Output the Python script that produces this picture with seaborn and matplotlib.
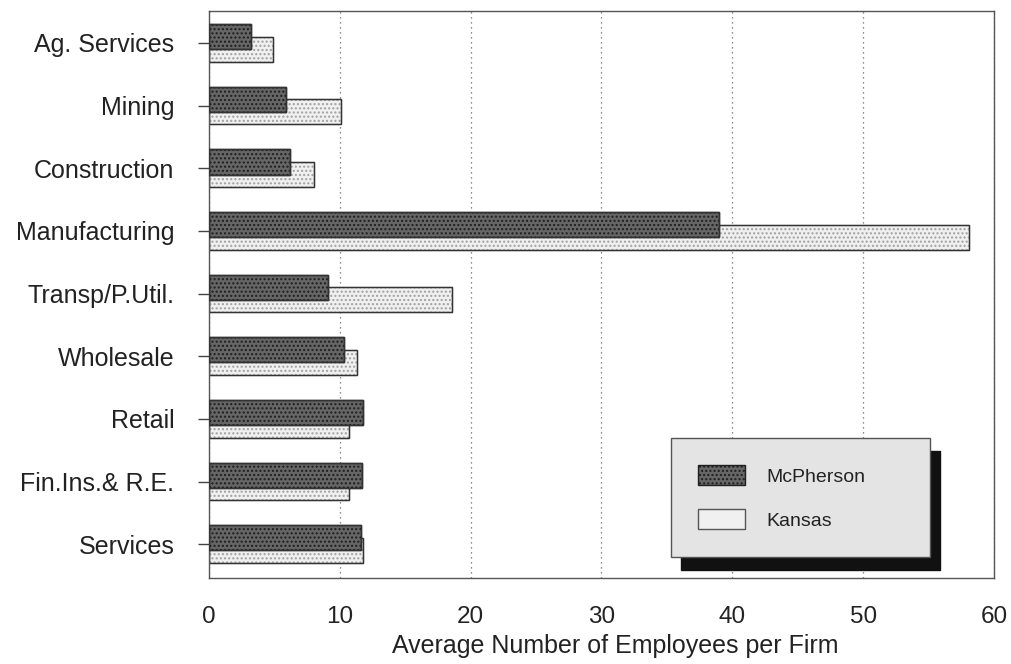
import matplotlib
matplotlib.use("Agg")
import matplotlib.pyplot as plt
import seaborn as sns
import pandas as pd
from matplotlib.patches import Patch

# Average number of employees per firm, by industry
industries = ["Ag. Services", "Mining", "Construction", "Manufacturing",
              "Transp/P.Util.", "Wholesale", "Retail", "Fin.Ins.& R.E.",
              "Services"]
mcpherson = [3.2, 5.9, 6.2, 39.0, 9.1, 10.3, 11.8, 11.7, 11.6]
kansas = [4.9, 10.1, 8.0, 58.1, 18.6, 11.3, 10.7, 10.7, 11.8]
x_ticks = [0, 10, 20, 30, 40, 50, 60]

sns.set_theme(style="white")
plt.rcParams["font.family"] = ["Liberation Sans", "DejaVu Sans"]
plt.rcParams["hatch.linewidth"] = 1.0

DARK = "#666666"
LIGHT = "#f0f0f0"

fig = plt.figure(figsize=(10.11, 6.64), dpi=100)
ax = fig.add_axes([209 / 1011, 1 - 578 / 664, (994 - 209) / 1011, (578 - 11) / 664])

df_k = pd.DataFrame({"industry": industries, "value": kansas})
df_m = pd.DataFrame({"industry": industries, "value": mcpherson})

# Kansas behind, shifted down; McPherson in front, shifted up
shift = 0.1
sns.barplot(data=df_k, y="industry", x="value", order=industries, orient="h",
            width=0.4, color=LIGHT, edgecolor="#222222", linewidth=1.0,
            saturation=1, ax=ax)
n_k = len(ax.patches)
sns.barplot(data=df_m, y="industry", x="value", order=industries, orient="h",
            width=0.4, color=DARK, edgecolor="#1a1a1a", linewidth=1.0,
            saturation=1, ax=ax)
for i, p in enumerate(ax.patches):
    if i < n_k:
        p.set_y(p.get_y() + shift)
        p.set_hatch("....")
        p.set_edgecolor("#a0a0a0")
        p.set_zorder(2)
    else:
        p.set_y(p.get_y() - shift)
        p.set_hatch("....")
        p.set_edgecolor("#1e1e1e")
        p.set_zorder(3)

# Crisp outlines over the hatched bars
for p in list(ax.patches):
    r = plt.Rectangle((p.get_x(), p.get_y()), p.get_width(), p.get_height(),
                      fill=False, edgecolor="#333333", linewidth=1.0,
                      zorder=p.get_zorder())
    ax.add_patch(r)

ax.set_xlim(0, 60)
ax.set_ylim(8.54, -0.51)
ax.set_xticks(x_ticks)
ax.set_xticklabels([str(t) for t in x_ticks])
ax.set_ylabel("")
ax.set_xlabel("Average Number of Employees per Firm", fontsize=18,
              color="#222222")
ax.xaxis.set_label_coords(0.517, -0.099)

ax.xaxis.grid(True, linestyle=(0, (1, 3)), color="#666666", linewidth=0.9)
ax.set_axisbelow(True)
for s in ax.spines.values():
    s.set_visible(True)
    s.set_color("#555555")
    s.set_linewidth(1.0)

ax.tick_params(axis="x", direction="inout", length=14, width=1.0, color="#444444",
               labelsize=17.5, labelcolor="#222222", pad=13)
ax.tick_params(axis="y", direction="out", length=8, width=1.0, color="#444444",
               labelsize=18, labelcolor="#222222", pad=17, left=True)

handles = [
    Patch(facecolor=DARK, edgecolor="#1e1e1e", hatch="....", linewidth=1.0,
          label="McPherson"),
    Patch(facecolor=LIGHT, edgecolor="#555555", linewidth=1.0, label="Kansas"),
]
leg = ax.legend(handles=handles, loc="lower left",
                bbox_to_anchor=((671 - 209) / 785, (578 - 557) / 567,
                                (930 - 671) / 785, 0.1),
                mode="expand", borderaxespad=0, fontsize=14,
                handlelength=2.4, handleheight=1.2, handletextpad=1.1,
                labelspacing=1.2, borderpad=1.4, fancybox=False,
                frameon=True, framealpha=1,
                shadow={"ox": 7.5, "oy": -9, "color": "#111111", "alpha": 1.0})
frame = leg.get_frame()
frame.set_facecolor("#e4e4e4")
frame.set_edgecolor("#555555")
frame.set_linewidth(1.0)
for t in leg.get_texts():
    t.set_color("#222222")

fig.savefig("out.png", dpi=100)
